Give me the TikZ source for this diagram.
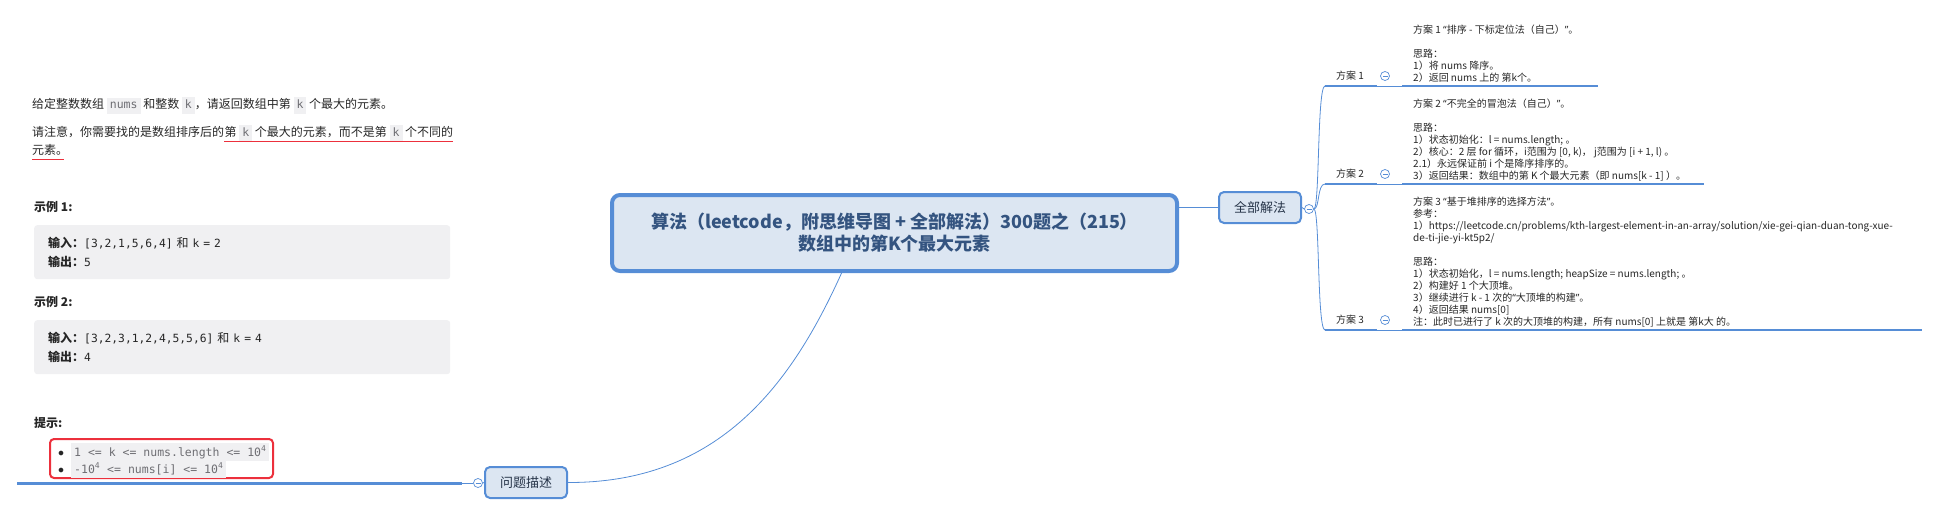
\documentclass[tikz,border=0pt]{standalone}
\usepackage{fontspec}
\setmainfont{Noto Sans CJK SC}
\setmonofont{DejaVu Sans Mono}
\newfontfamily\quotefont{Noto Sans}
\usetikzlibrary{calc,positioning}

\definecolor{lineblue}{RGB}{86,141,214}
\definecolor{topicfill}{RGB}{220,230,242}
\definecolor{titletext}{RGB}{52,84,128}
\definecolor{topictext}{RGB}{38,52,72}
\definecolor{bodytext}{RGB}{38,38,38}
\definecolor{redmark}{RGB}{236,48,60}
\definecolor{codebg}{RGB}{240,240,242}
\definecolor{codetext}{RGB}{110,110,115}

\newcommand{\inlinecode}[1]{{\setlength{\fboxsep}{3pt}\colorbox{codebg}{\fontsize{11.5}{14}\selectfont\ttfamily\color{codetext}\vphantom{Ag}#1}}}
\newcommand{\mono}[1]{{\fontsize{11.3}{19}\selectfont\ttfamily #1}}
\newcommand{\openquote}{{\quotefont “}}
\newcommand{\closequote}{{\quotefont ”}}

\begin{document}
\begin{tikzpicture}[x=1pt,y=-1pt, every node/.style={font=\fontsize{10}{12}\selectfont, text=bodytext},
    topic/.style={draw=lineblue, line width=2pt, rounded corners=5pt, fill=topicfill, minimum width=82pt, minimum height=31pt, inner sep=0pt, font=\fontsize{13}{15}\selectfont, text=topictext},
    fold/.style={circle, draw=lineblue, fill=white, line width=0.7pt, minimum size=9pt, inner sep=0pt,
        path picture={\draw[lineblue, line width=0.7pt] ([xshift=-2.5pt]path picture bounding box.center) -- ([xshift=2.5pt]path picture bounding box.center);}},
    branch/.style={lineblue, line width=2.5pt},
    twig/.style={lineblue, line width=0.8pt},
    codebox/.style={fill=codebg, rounded corners=3pt, text width=388pt, inner xsep=14pt, minimum height=54pt, align=left, font=\fontsize{12}{19}\selectfont},
    redline/.style={draw=redmark, line width=1.5pt}]
    \useasboundingbox (0,0) rectangle (1941,516);

    % centre topic
    \node[draw=lineblue, line width=4pt, rounded corners=8pt, fill=topicfill, minimum width=565pt, minimum height=76pt, align=center, font=\fontsize{18}{22}\selectfont\bfseries, text=titletext] (root) at (894.5,233) {算法（leetcode，附思维导图 + 全部解法）300题之（215）\\数组中的第K个最大元素};

    \node[topic] (all) at (1260,207.5) {全部解法};
    \node[fold] (allfold) at (1309,209) {};
    \node[topic] (wenti) at (526,482.5) {问题描述};
    \node[fold] (wentifold) at (478,483) {};

    \draw[twig] (root.east |- all.west) -- (all.west);
    \draw[twig] (all.east) -- (allfold.west);
    \draw[twig] ($(root.south west)!0.407!(root.south east)$) .. controls (792,383) and (720,483) .. (wenti.east);

    % problem description
    \coordinate (probend) at (17,483);
    \draw[branch, line width=3pt] (probend) -- (462,483) coordinate (probcut);
    \draw[twig] (probcut) -- (wentifold.west);
    \draw[twig] (wentifold.east) -- (wenti.west);

    \node[anchor=base west, inner sep=0pt, font=\fontsize{12}{17}\selectfont] (desc1) at (32,109) {给定整数数组 \inlinecode{nums} 和整数 \inlinecode{k}，请返回数组中第 \inlinecode{k} 个最大的元素。};
    \node[anchor=base west, inner sep=0pt, font=\fontsize{12}{17}\selectfont] (desc2) at (32,137) {请注意，你需要找的是数组排序后的};
    \node[anchor=base west, inner sep=0pt, font=\fontsize{12}{17}\selectfont] (desc2mark) at (desc2.base east) {第 \inlinecode{k} 个最大的元素，而不是第 \inlinecode{k} 个不同的};
    \node[anchor=base west, inner sep=0pt, font=\fontsize{12}{17}\selectfont] (desc3) at (32,155) {元素。};
    \draw[redline] ([yshift=-4.5pt]desc2mark.base west) -- ([yshift=-4.5pt]desc2mark.base east);
    \draw[redline] ([yshift=-4.5pt]desc3.base west) -- ([yshift=-4.5pt,xshift=-4pt]desc3.base east);

    \node[anchor=base west, inner sep=0pt, font=\fontsize{12}{14}\selectfont\bfseries] (ex1title) at (34,211) {示例 1:};
    \node[codebox, anchor=north west] (ex1box) at (34,225) {{\bfseries 输入：}\mono{[3,2,1,5,6,4] }和\mono{ k = 2}\\{\bfseries 输出：}\mono{5}};
    \node[anchor=base west, inner sep=0pt, font=\fontsize{12}{14}\selectfont\bfseries] (ex2title) at (34,306) {示例 2:};
    \node[codebox, anchor=north west] (ex2box) at (34,320) {{\bfseries 输入：}\mono{[3,2,3,1,2,4,5,5,6] }和\mono{ k = 4}\\{\bfseries 输出：}\mono{4}};

    \node[anchor=base west, inner sep=0pt, font=\fontsize{12}{14}\selectfont\bfseries] (hinttitle) at (34,427) {提示:};
    \node[draw=redmark, line width=2pt, rounded corners=4pt, minimum width=223pt, minimum height=39pt] (hintframe) at (161.5,458.5) {};
    \node[anchor=base west, inner sep=0pt, font=\fontsize{11.5}{13}\selectfont] (hint1) at (58,456) {$\bullet$\hspace{7pt}\inlinecode{1 <= k <= nums.length <= 10\textsuperscript{4}}};
    \node[anchor=base west, inner sep=0pt, font=\fontsize{11.5}{13}\selectfont] (hint2) at (58,473) {$\bullet$\hspace{7pt}\inlinecode{-10\textsuperscript{4} <= nums[i] <= 10\textsuperscript{4}}};

    % all solutions
    \node (plan1) at (1350,76) {方案 1};
    \node[fold] (planfold1) at (1385,76) {};
    \coordinate (planstart1) at (1325,86);
    \draw[twig] (allfold.east) .. controls +(6,0) and +(-8,0) .. (planstart1);
    \draw[branch] (planstart1) -- (1377,86) coordinate (plancut1);
    \draw[twig] (plancut1) -- (1402,86) coordinate (planrest1);
    \draw[branch] (planrest1) -- (1598,86);

    \node (plan2) at (1350,174) {方案 2};
    \node[fold] (planfold2) at (1385,174) {};
    \coordinate (planstart2) at (1325,184);
    \draw[twig] (allfold.east) .. controls +(6,0) and +(-8,0) .. (planstart2);
    \draw[branch] (planstart2) -- (1377,184) coordinate (plancut2);
    \draw[twig] (plancut2) -- (1402,184) coordinate (planrest2);
    \draw[branch] (planrest2) -- (1704,184);

    \node (plan3) at (1350,320) {方案 3};
    \node[fold] (planfold3) at (1385,320) {};
    \coordinate (planstart3) at (1325,330);
    \draw[twig] (allfold.east) .. controls +(6,0) and +(-8,0) .. (planstart3);
    \draw[branch] (planstart3) -- (1377,330) coordinate (plancut3);
    \draw[twig] (plancut3) -- (1402,330) coordinate (planrest3);
    \draw[branch] (planrest3) -- (1922,330);

    \node[anchor=north west, inner sep=0pt, align=left] (plantext1) at (1413,25) {方案 1 \openquote 排序 - 下标定位法（自己）\closequote 。\\[12pt]思路：\\1）将 nums 降序。\\2）返回 nums 上的 第k个。};
    \node[anchor=north west, inner sep=0pt, align=left] (plantext2) at (1413,99) {方案 2 \openquote 不完全的冒泡法（自己）\closequote 。\\[12pt]思路：\\1）状态初始化：l = nums.length; 。\\2）核心：2 层 for 循环，i范围为 [0, k)， j范围为 [i + 1, l) 。\\2.1）永远保证前 i 个是降序排序的。\\3）返回结果：数组中的第 K 个最大元素（即 nums[k - 1] ）。};
    \node[anchor=north west, inner sep=0pt, align=left] (plantext3) at (1413,197) {方案 3 \openquote 基于堆排序的选择方法\closequote 。\\参考：\\1）https://leetcode.cn/problems/kth-largest-element-in-an-array/solution/xie-gei-qian-duan-tong-xue-\\de-ti-jie-yi-kt5p2/\\[12pt]思路：\\1）状态初始化，l = nums.length; heapSize = nums.length; 。\\2）构建好 1 个大顶堆。\\3）继续进行 k - 1 次的\openquote 大顶堆的构建\closequote 。\\4）返回结果 nums[0]\\注：此时已进行了 k 次的大顶堆的构建，所有 nums[0] 上就是 第k大 的。};
\end{tikzpicture}
\end{document}
